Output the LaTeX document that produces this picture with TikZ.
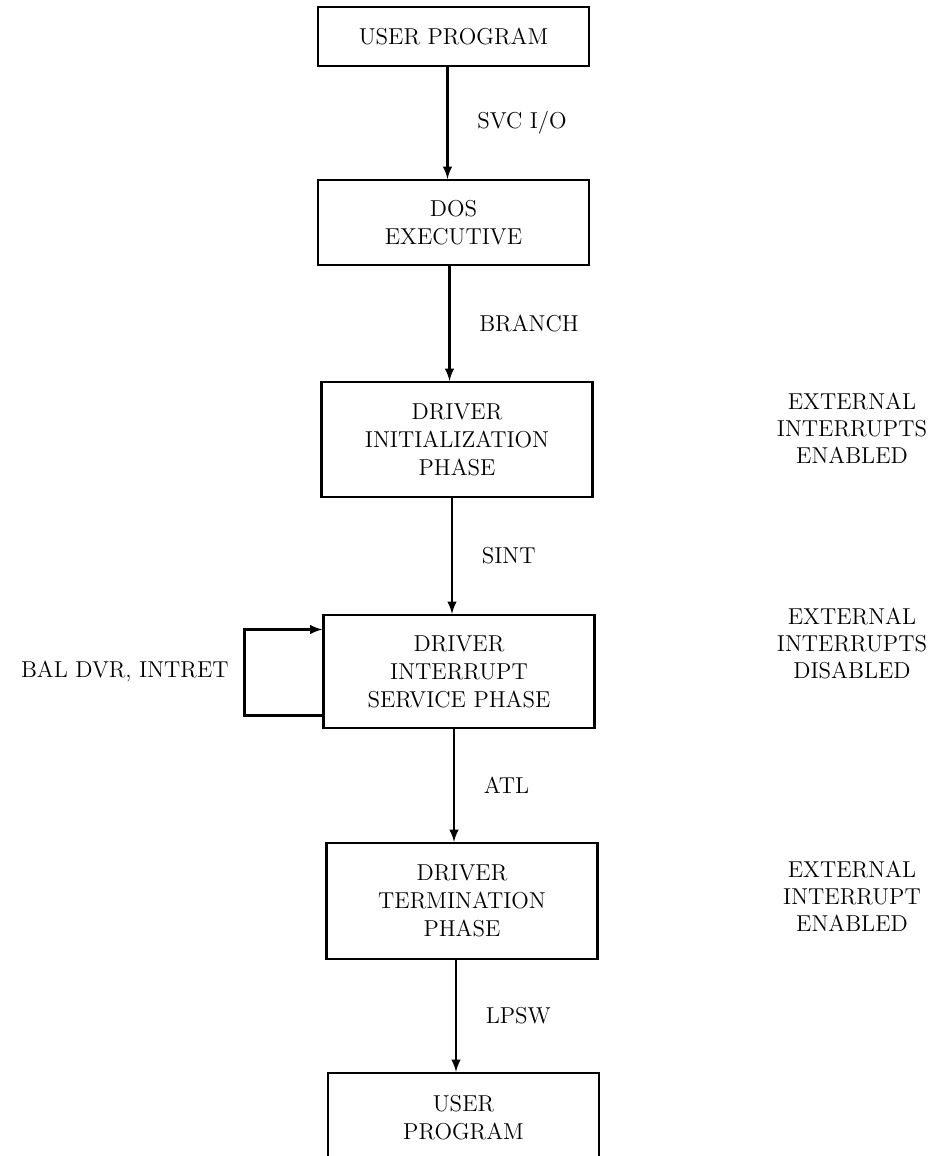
\documentclass[tikz,border=0pt]{standalone}
\usetikzlibrary{arrows}

\begin{document}
\begin{tikzpicture}[line width=1.1pt,x=0.5pt,y=0.5pt]
      \tikzstyle{box}=[minimum width=135.5pt,rectangle,draw,
        align=center,inner sep=0pt,
        font=\fontsize{11.5pt}{14pt}\selectfont]
      \tikzstyle{lbl}=[align=center,
        font=\fontsize{11.5pt}{13.5pt}\selectfont]

      \clip (0,0) rectangle (938,-1156);

      \node[box,minimum height=29.5pt] (U1)  at (453.5,-36.5) {USER PROGRAM};
      \node[box,minimum height=42.5pt] (DOS) at (453.5,-222.5) {DOS\\EXECUTIVE};
      \node[box,minimum height=57.5pt] (INI) at (457,-439.5)
        {DRIVER\\INITIALIZATION\\PHASE};
      \node[box,minimum height=56.5pt] (ISR) at (459,-671.5)
        {DRIVER\\INTERRUPT\\SERVICE PHASE};
      \node[box,minimum height=58pt]   (TRM) at (462,-901)
        {DRIVER\\TERMINATION\\PHASE};
      \node[box,minimum height=45pt]   (U2)  at (463.5,-1118) {USER\\PROGRAM};

      \node[lbl] (en1) at (852,-428.5) {EXTERNAL\\INTERRUPTS\\ENABLED};
      \node[lbl] (dis) at (852,-643.5) {EXTERNAL\\INTERRUPTS\\DISABLED};
      \node[lbl] (en2) at (852,-896.5) {EXTERNAL\\INTERRUPT\\ENABLED};

      \tikzstyle{ar}=[->,>=latex]

      \draw[ar] ([xshift=-3pt]U1.south) -- ([xshift=-3pt]U1.south |- DOS.north)
      node [midway,right,xshift=11pt,lbl] {SVC I/O};

      \draw[ar] ([xshift=-2pt]DOS.south) -- ([xshift=-2pt]DOS.south |- INI.north)
      node [midway,right,xshift=11pt,lbl] {BRANCH};

      \draw[ar] ([xshift=-2.5pt]INI.south) -- ([xshift=-2.5pt]INI.south |- ISR.north)
      node [midway,right,xshift=11pt,lbl] {SINT};

      \draw[ar] ([xshift=-2.5pt]ISR.south) -- ([xshift=-2.5pt]ISR.south |- TRM.north)
      node [midway,right,xshift=11pt,lbl] {ATL};

      \draw[ar] ([xshift=-3pt]TRM.south) -- ([xshift=-3pt]TRM.south |- U2.north)
      node [midway,right,xshift=11pt,lbl] {LPSW};

      % loop back into the service phase
      \draw[ar] ([yshift=-22pt]ISR.west) -- ++(-39pt,0)
      coordinate (lp) |- ([yshift=21pt]ISR.west);
      \node[lbl,left=4pt] (bal) at (lp |- ISR.west) {BAL DVR, INTRET};
    \end{tikzpicture}
\end{document}
